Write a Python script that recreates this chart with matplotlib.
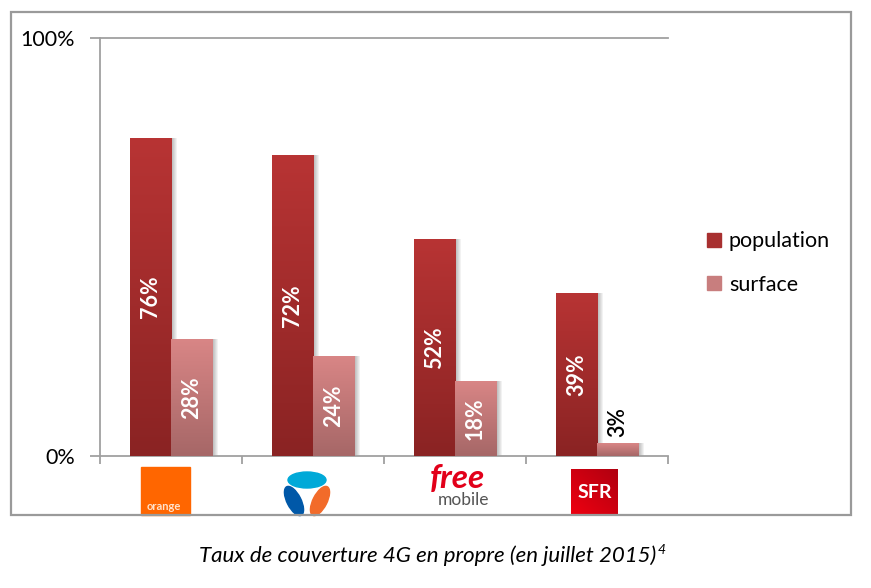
import numpy as np
import matplotlib
matplotlib.use("Agg")
import matplotlib.pyplot as plt
from matplotlib.patches import Rectangle, Ellipse
from matplotlib.colors import LinearSegmentedColormap

plt.rcParams['font.family'] = ['Lato', 'DejaVu Sans']

# data
operators = ['Orange', 'Bouygues', 'Free mobile', 'SFR']
population = [76, 72, 52, 39]
surface = [28, 24, 18, 3]
series_names = ['population', 'surface']
caption = 'Taux de couverture 4G en propre (en juillet 2015)'

W, H = 871, 588
fig = plt.figure(figsize=(W / 100, H / 100), dpi=100)

# outer frame of the chart
fig.patches.append(Rectangle((11 / W, 1 - 515 / H), 840 / W, 503 / H,
                             transform=fig.transFigure, fill=False,
                             edgecolor='#9a9a9a', linewidth=1.6, zorder=0))

ax = fig.add_axes([100 / W, 1 - 456 / H, 568 / W, 418 / H])
ax.set_xlim(-0.5, len(operators) - 0.5)
ax.set_ylim(0, 100)

x = np.arange(len(operators))
bw = 0.29

pop_cmap = LinearSegmentedColormap.from_list('pop', ['#8a2323', '#b83434'])
sur_cmap = LinearSegmentedColormap.from_list('sur', ['#a66767', '#d98686'])
grad = np.linspace(0, 1, 256).reshape(-1, 1)

# soft shadows to the right of each bar
for k in range(1, 7):
    off = 0.007 * k
    ax.bar(x - bw / 2 + off, population, bw, color='black', alpha=0.05,
           zorder=1, linewidth=0)
    ax.bar(x + bw / 2 + off, surface, bw, color='black', alpha=0.05,
           zorder=1, linewidth=0)

pop_bars = ax.bar(x - bw / 2, population, bw, color='#a02c2c', zorder=2,
                  linewidth=0, label=series_names[0])
sur_bars = ax.bar(x + bw / 2, surface, bw, color='#c07878', zorder=2,
                  linewidth=0, label=series_names[1])

# vertical gradient fill on each bar
for bars, cmap in ((pop_bars, pop_cmap), (sur_bars, sur_cmap)):
    for b in bars:
        x0, y0 = b.get_x(), b.get_y()
        im = ax.imshow(grad, cmap=cmap, origin='lower', aspect='auto',
                       extent=(x0, x0 + b.get_width(), y0, y0 + b.get_height()),
                       zorder=3)
        im.set_clip_path(b)
ax.set_xlim(-0.5, len(operators) - 0.5)
ax.set_ylim(0, 100)

# value labels
for b, v in zip(pop_bars, population):
    ax.text(b.get_x() + b.get_width() / 2, v / 2, f'{v}%', rotation=90,
            ha='center', va='center', color='white', fontsize=15.5,
            fontweight='bold', zorder=5)
for b, v in zip(sur_bars, surface):
    if v >= 10:
        ax.text(b.get_x() + b.get_width() / 2, v / 2, f'{v}%', rotation=90,
                ha='center', va='center', color='white', fontsize=15.5,
                fontweight='bold', zorder=5)
    else:
        ax.text(b.get_x() + b.get_width() / 2, v + 1.5, f'{v}%', rotation=90,
                ha='center', va='bottom', color='black', fontsize=15.5,
                fontweight='semibold', zorder=5)

# axes styling
for s in ('top', 'right'):
    ax.spines[s].set_visible(False)
for s in ('left', 'bottom'):
    ax.spines[s].set_color('#a0a0a0')
    ax.spines[s].set_linewidth(1.3)
ax.axhline(100, color='#a0a0a0', linewidth=1.3, zorder=0, clip_on=False)
ax.set_yticks([0, 100])
ax.set_yticklabels(['0%', '100%'], fontsize=15.5)
ax.tick_params(axis='y', length=7, width=1.3, color='#a0a0a0', pad=11)
ax.set_xticks([])
ax.set_xticks(np.arange(len(operators) + 1) - 0.5, minor=True)
ax.tick_params(axis='x', which='minor', length=6, width=1.3, color='#a0a0a0')

# legend
handles = [Rectangle((0, 0), 1, 1, color='#a83030'),
           Rectangle((0, 0), 1, 1, color='#c87e7e')]
fig.legend(handles, series_names, loc='center left',
           bbox_to_anchor=(688 / W, 1 - 263 / H), frameon=False,
           fontsize=15.5, handlelength=0.65, handleheight=0.65,
           handletextpad=0.35, labelspacing=1.08)

# operator logos under the axis (pixel coordinates, y measured from top)
lax = fig.add_axes([0, 0, 1, 1], zorder=-1)
lax.set_xlim(0, W)
lax.set_ylim(H, 0)
lax.axis('off')

# orange
lax.add_patch(Rectangle((141, 467), 49, 48, color='#ff6600'))
lax.text(164, 507, 'orange', color='#ffe3cc', fontsize=8, ha='center',
         va='center', fontweight='bold')

# bouygues
lax.add_patch(Ellipse((307, 480), 38, 16, color='#00a9d8'))
lax.add_patch(Ellipse((294, 501), 14, 32, angle=-27, color='#0058a8'))
lax.add_patch(Ellipse((320, 501), 14, 32, angle=27, color='#f26b2a'))

# free mobile
lax.text(457, 479, 'free', color='#e2001a', fontsize=24, ha='center',
         va='center', style='italic', fontweight='bold')
lax.text(463, 500, 'mobile', color='#555555', fontsize=12.5, ha='center',
         va='center')

# sfr
sfr = np.linspace(0, 1, 64)
sfr_grad = np.add.outer(sfr, sfr[::-1]) / 2
sfr_cmap = LinearSegmentedColormap.from_list('sfr', ['#b00010', '#ee0010'])
lax.imshow(sfr_grad, cmap=sfr_cmap, extent=(571, 618, 515, 469),
           aspect='auto', zorder=2)
lax.text(594.5, 492, 'SFR', color='white', fontsize=14, ha='center',
         va='center', fontweight='bold', zorder=3)
lax.set_xlim(0, W)
lax.set_ylim(H, 0)

# caption with superscript
cap = fig.text(428 / W, 1 - 556 / H, caption, ha='center', va='center',
               fontsize=16, style='italic')
fig.canvas.draw()
bb = cap.get_window_extent()
fig.text(bb.x1 / W + 1 / W, bb.y1 / H - 4 / H, '4', fontsize=10,
         style='italic', ha='left', va='center')

fig.savefig('out.png', dpi=100)
